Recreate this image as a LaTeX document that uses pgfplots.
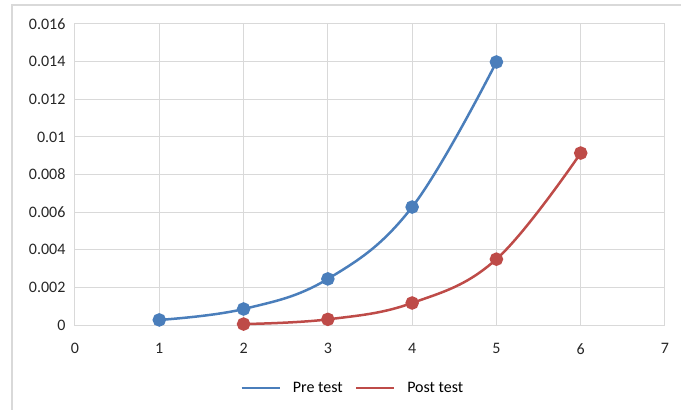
\documentclass[border=0pt]{standalone}
\usepackage{pgfplots}
\pgfplotsset{compat=1.18}
\usepackage{fontspec}
\setmainfont{Carlito}
\definecolor{preblue}{HTML}{4A7EBB}
\definecolor{postred}{HTML}{BE4B48}
\definecolor{gridgray}{HTML}{D9D9D9}
\begin{document}
\begin{tikzpicture}[x=1pt,y=1pt]
\useasboundingbox (0,0) rectangle (681,410);
\draw[gridgray, line width=2pt] (12,0) -- (12,405) -- (681,405);
\begin{axis}[
  at={(75pt,85pt)}, anchor=south west,
  scale only axis, width=590pt, height=301pt,
  xmin=0, xmax=7, ymin=0, ymax=0.016,
  xtick={0,1,2,3,4,5,6,7},
  ytick={0,0.002,0.004,0.006,0.008,0.01,0.012,0.014,0.016},
  yticklabels={0,0.002,0.004,0.006,0.008,0.01,0.012,0.014,0.016},
  scaled y ticks=false,
  /pgf/number format/assume math mode=true,
  tick label style={font=\fontsize{16}{19}\selectfont, text=black!85},
  xticklabel style={yshift=-15pt},
  yticklabel style={xshift=-6pt},
  grid=both, major grid style={gridgray, line width=1pt},
  axis line style={gridgray, line width=1pt},
  tick style={draw=none},
  legend style={at={(0.471,-0.21)}, anchor=center, legend columns=2, draw=none,
    font=\fontsize{16}{19}\selectfont, column sep=10pt},
  legend image code/.code={\draw[#1, mark=none] (0pt,0pt) -- (38pt,0pt);},
]
\addplot[preblue, line width=2.5pt, smooth, tension=0.65, mark=*, mark size=5.5pt, mark options={fill=preblue, draw=none}]
  coordinates {(1,0.00027) (2,0.00085) (3,0.00245) (4,0.00627) (5,0.01398)};
\addlegendentry{Pre test}
\addplot[postred, line width=2.5pt, smooth, tension=0.65, mark=*, mark size=5.5pt, mark options={fill=postred, draw=none}]
  coordinates {(2,0.00005) (3,0.0003) (4,0.00117) (5,0.0035) (6,0.00914)};
\addlegendentry{Post test}
\end{axis}
\end{tikzpicture}
\end{document}
